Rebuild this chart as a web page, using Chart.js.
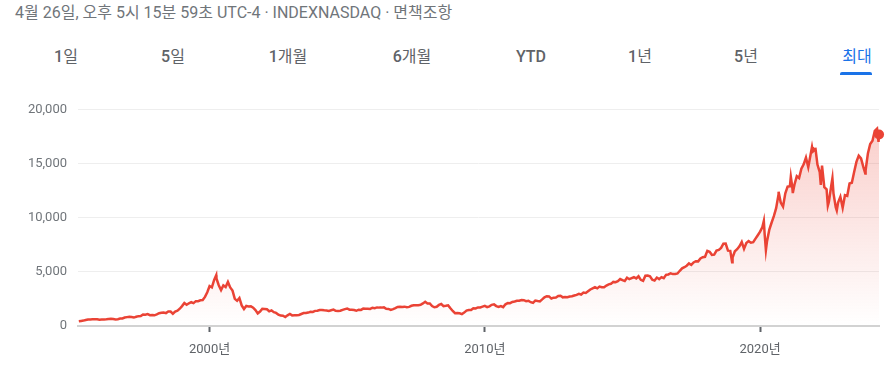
<!DOCTYPE html>
<html>
<head>
<meta charset="utf-8">
<script src="https://cdn.jsdelivr.net/npm/chart.js@4.4.1/dist/chart.umd.min.js"></script>
<style>
  html, body { margin: 0; padding: 0; background: #fff; }
  body { width: 895px; height: 371px; position: relative; overflow: hidden;
         font-family: Roboto, "Noto Sans CJK KR", Arial, sans-serif; }
  #stamp { position: absolute; left: 15px; top: 3px; font-size: 16px; line-height: 20px; color: #70757a; white-space: nowrap; }
  .tab { position: absolute; top: 47px; font-size: 16px; line-height: 20px; font-weight: 500; color: #5f6368;
         transform: translateX(-50%); white-space: nowrap; }
  .tab .k { font-weight: 400; }
  .tab.on { color: #1a73e8; }
  #bar { position: absolute; left: 840px; top: 72px; width: 32px; height: 3px; background: #1a73e8; border-radius: 2px 2px 0 0; }
  #wrap { position: absolute; left: 0; top: 91px; width: 895px; height: 280px; }
</style>
</head>
<body>
<div id="stamp">4월 26일, 오후 5시 15분 59초 UTC-4 · INDEXNASDAQ · 면책조항</div>
<div id="tabs"></div>
<div id="bar"></div>
<div id="wrap"><canvas id="chart"></canvas></div>
<script>
// tabs above the chart
const tabLabels = ['1일', '5일', '1개월', '6개월', 'YTD', '1년', '5년', '최대'];
const tabCenters = [66, 173, 288, 412, 531, 640, 746, 857];

// month-end closes ('YYYY-MM') plus a few daily extremes ('YYYY-MM-DD')
const dates = [
  '1995-03','1995-04','1995-05','1995-06','1995-07','1995-08','1995-09','1995-10','1995-11','1995-12',
  '1996-01','1996-02','1996-03','1996-04','1996-05','1996-06','1996-07','1996-08','1996-09','1996-10','1996-11','1996-12',
  '1997-01','1997-02','1997-03','1997-04','1997-05','1997-06','1997-07','1997-08','1997-09','1997-10','1997-11','1997-12',
  '1998-01','1998-02','1998-03','1998-04','1998-05','1998-06','1998-07','1998-08','1998-09','1998-10','1998-11','1998-12',
  '1999-01','1999-02','1999-03','1999-04','1999-05','1999-06','1999-07','1999-08','1999-09','1999-10','1999-11','1999-12',
  '2000-01','2000-02','2000-03-27','2000-03','2000-04','2000-05','2000-06','2000-07','2000-08','2000-09','2000-10','2000-11','2000-12',
  '2001-01','2001-02','2001-03','2001-04','2001-05','2001-06','2001-07','2001-08','2001-09','2001-10','2001-11','2001-12',
  '2002-01','2002-02','2002-03','2002-04','2002-05','2002-06','2002-07','2002-08','2002-09','2002-10','2002-11','2002-12',
  '2003-01','2003-02','2003-03','2003-04','2003-05','2003-06','2003-07','2003-08','2003-09','2003-10','2003-11','2003-12',
  '2004-01','2004-02','2004-03','2004-04','2004-05','2004-06','2004-07','2004-08','2004-09','2004-10','2004-11','2004-12',
  '2005-01','2005-02','2005-03','2005-04','2005-05','2005-06','2005-07','2005-08','2005-09','2005-10','2005-11','2005-12',
  '2006-01','2006-02','2006-03','2006-04','2006-05','2006-06','2006-07','2006-08','2006-09','2006-10','2006-11','2006-12',
  '2007-01','2007-02','2007-03','2007-04','2007-05','2007-06','2007-07','2007-08','2007-09','2007-10','2007-11','2007-12',
  '2008-01','2008-02','2008-03','2008-04','2008-05','2008-06','2008-07','2008-08','2008-09','2008-10','2008-11','2008-12',
  '2009-01','2009-02','2009-03','2009-04','2009-05','2009-06','2009-07','2009-08','2009-09','2009-10','2009-11','2009-12',
  '2010-01','2010-02','2010-03','2010-04','2010-05','2010-06','2010-07','2010-08','2010-09','2010-10','2010-11','2010-12',
  '2011-01','2011-02','2011-03','2011-04','2011-05','2011-06','2011-07','2011-08','2011-09','2011-10','2011-11','2011-12',
  '2012-01','2012-02','2012-03','2012-04','2012-05','2012-06','2012-07','2012-08','2012-09','2012-10','2012-11','2012-12',
  '2013-01','2013-02','2013-03','2013-04','2013-05','2013-06','2013-07','2013-08','2013-09','2013-10','2013-11','2013-12',
  '2014-01','2014-02','2014-03','2014-04','2014-05','2014-06','2014-07','2014-08','2014-09','2014-10','2014-11','2014-12',
  '2015-01','2015-02','2015-03','2015-04','2015-05','2015-06','2015-07','2015-08','2015-09','2015-10','2015-11','2015-12',
  '2016-01','2016-02','2016-03','2016-04','2016-05','2016-06','2016-07','2016-08','2016-09','2016-10','2016-11','2016-12',
  '2017-01','2017-02','2017-03','2017-04','2017-05','2017-06','2017-07','2017-08','2017-09','2017-10','2017-11','2017-12',
  '2018-01','2018-02','2018-03','2018-04','2018-05','2018-06','2018-07','2018-08','2018-09','2018-10','2018-11','2018-12-24','2018-12',
  '2019-01','2019-02','2019-03','2019-04','2019-05','2019-06','2019-07','2019-08','2019-09','2019-10','2019-11','2019-12',
  '2020-01','2020-02-19','2020-02','2020-03-16','2020-03','2020-04','2020-05','2020-06','2020-07','2020-08','2020-09-02','2020-09','2020-10','2020-11','2020-12',
  '2021-01','2021-02-12','2021-02','2021-03-08','2021-03','2021-04','2021-05','2021-06','2021-07','2021-08','2021-09','2021-10','2021-11-19','2021-11','2021-12',
  '2022-01-03','2022-01','2022-02','2022-03-14','2022-03','2022-04','2022-05','2022-06-16','2022-06','2022-07','2022-08-16','2022-08','2022-09','2022-10-13','2022-10','2022-11','2022-12',
  '2023-01','2023-02','2023-03','2023-04','2023-05','2023-06','2023-07','2023-08','2023-09','2023-10-26','2023-10','2023-11','2023-12',
  '2024-01','2024-02','2024-03','2024-04-19','2024-04-26'
];

const values = [
  440,470,500,560,600,610,620,630,630,580,
  590,600,620,650,680,650,600,630,690,700,780,820,
  860,830,780,850,910,920,1070,1050,1100,1000,1020,990,
  1070,1180,1220,1250,1190,1340,1340,1140,1340,1420,1600,1840,
  2130,1960,2100,2200,2120,2300,2300,2380,2400,2690,3120,3700,
  3570,4270,4700,4400,3770,3320,3760,3600,4080,3570,3280,2510,2340,
  2590,1910,1570,1860,1800,1830,1690,1470,1170,1330,1600,1580,
  1550,1360,1450,1280,1210,1050,960,950,830,990,1110,980,
  990,1000,1020,1110,1200,1200,1240,1310,1300,1400,1410,1470,
  1480,1450,1440,1400,1460,1520,1400,1380,1410,1490,1560,1620,
  1510,1500,1480,1410,1510,1490,1610,1600,1600,1580,1690,1650,
  1720,1700,1700,1720,1590,1580,1480,1560,1650,1760,1790,1760,
  1790,1740,1770,1870,1920,1930,1930,1960,2090,2240,2090,2080,
  1840,1730,1780,1950,2030,1840,1870,1910,1640,1390,1180,1210,
  1180,1100,1240,1420,1470,1480,1640,1630,1720,1720,1790,1860,
  1740,1820,1960,2000,1840,1760,1850,1750,2010,2120,2110,2220,
  2270,2340,2340,2410,2390,2300,2340,2200,2140,2350,2310,2280,
  2460,2650,2760,2740,2540,2620,2630,2770,2800,2650,2680,2660,
  2730,2750,2820,2880,2980,2910,3090,3060,3220,3380,3490,3590,
  3480,3650,3590,3580,3740,3850,3900,4080,4050,4150,4340,4240,
  4160,4460,4330,4420,4510,4400,4600,4270,4180,4650,4670,4590,
  4280,4200,4480,4340,4520,4420,4730,4770,4880,4800,4810,4860,
  5110,5330,5440,5580,5790,5650,5880,5990,5980,6250,6370,6400,
  6950,6860,6580,6600,6970,7040,7230,7620,7630,6970,6950,5900,6330,
  6910,7100,7380,7780,7130,7670,7850,7700,7750,8080,8400,8730,
  9150,9720,8460,7020,7810,8890,9550,10160,10900,12110,12420,11420,11050,12270,12890,
  12930,13800,12910,12300,13090,13860,13690,14550,14960,15580,14690,15850,16570,16140,16320,
  16500,14930,14240,13050,14840,12850,12640,11130,11500,12950,13670,12270,10970,10690,11410,11950,10940,
  12100,12040,13180,13250,14250,15180,15760,15500,14720,14110,14410,15950,16830,
  17140,18040,18250,17040,17720
];

const yTicks = [0, 5000, 10000, 15000, 20000];
const xTicks = [2000, 2010, 2020];

for (let i = 0; i < tabLabels.length; i++) {
  const d = document.createElement('div');
  d.className = 'tab' + (i == tabLabels.length - 1 ? ' on' : '');
  // Hangul in regular weight, digits/latin in medium
  d.innerHTML = tabLabels[i].replace(/([\uAC00-\uD7A3]+)/g, '<span class="k">$1</span>');
  d.style.left = tabCenters[i] + 'px';
  document.getElementById('tabs').appendChild(d);
}

function toYear(s) {
  const p = s.split('-').map(Number);
  if (p.length == 2) return p[0] + p[1] / 12;
  return p[0] + (p[1] - 1 + p[2] / 30) / 12;
}

const points = dates.map((d, i) => ({ x: toYear(d), y: values[i] }));
const last = points.length - 1;
const red = '#ea4335';

new Chart(document.getElementById('chart'), {
  type: 'line',
  data: {
    datasets: [{
      data: points,
      borderColor: red,
      borderWidth: 2.5,
      tension: 0,
      pointRadius: ctx => ctx.dataIndex == last ? 5 : 0,
      pointBackgroundColor: red,
      pointBorderWidth: 0,
      fill: 'origin',
      backgroundColor: ctx => {
        const a = ctx.chart.chartArea;
        if (!a) return 'rgba(234,67,53,0.1)';
        const g = ctx.chart.ctx.createLinearGradient(0, a.top, 0, a.bottom);
        g.addColorStop(0, 'rgba(234,67,53,0.28)');
        g.addColorStop(1, 'rgba(234,67,53,0)');
        return g;
      }
    }]
  },
  options: {
    responsive: true,
    maintainAspectRatio: false,
    animation: false,
    clip: false,
    layout: { padding: { top: 10, right: 16, left: 0, bottom: 0 } },
    plugins: { legend: { display: false }, tooltip: { enabled: false } },
    scales: {
      x: {
        type: 'linear',
        min: 1995.22,
        max: 2024.32,
        afterBuildTicks: s => { s.ticks = xTicks.map(v => ({ value: v })); },
        afterFit: s => { s.height = 45; },
        grid: { drawOnChartArea: false, drawTicks: true, tickLength: 6, tickColor: '#5f6368', tickWidth: 2 },
        border: { display: true, color: '#d2d2d2', width: 2 },
        ticks: {
          padding: 10,
          color: '#5f6368',
          font: { size: 13, family: 'Roboto, "Noto Sans CJK KR"' },
          maxRotation: 0,
          callback: v => v + '년'
        }
      },
      y: {
        min: 0,
        max: 20000,
        afterBuildTicks: s => { s.ticks = yTicks.map(v => ({ value: v })); },
        afterFit: s => { s.width = 78; },
        grid: { color: '#eeeeee', lineWidth: 1, drawTicks: false },
        border: { display: false },
        ticks: {
          padding: 11,
          color: '#70757a',
          font: { size: 13, family: 'Roboto, "Noto Sans CJK KR"' },
          callback: v => v.toLocaleString('en-US')
        }
      }
    }
  }
});
</script>
</body>
</html>
